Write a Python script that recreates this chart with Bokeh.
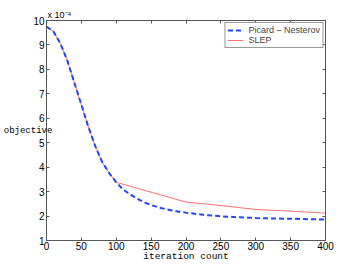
from bokeh.plotting import figure
from bokeh.models import Range1d, LinearAxis, Legend, LegendItem, Title, FixedTicker
from bokeh.embed import file_html
from bokeh.resources import INLINE

# iteration counts and objective values (x 1e-4)
pn_iter = [0, 10, 20, 30, 40, 50, 60, 70, 80, 90, 100, 110, 120, 130, 140, 150,
           160, 170, 180, 190, 200, 225, 250, 275, 300, 325, 350, 375, 400]
pn_obj = [9.75, 9.55, 9.05, 8.35, 7.45, 6.55, 5.65, 4.85, 4.2, 3.75, 3.38, 3.08,
          2.89, 2.71, 2.56, 2.45, 2.36, 2.29, 2.23, 2.18, 2.14, 2.05, 1.99, 1.95,
          1.92, 1.9, 1.89, 1.87, 1.86]

slep_iter = [0, 10, 20, 30, 40, 50, 60, 70, 80, 90, 100, 200, 250, 300, 350, 400]
slep_obj = [9.75, 9.55, 9.05, 8.35, 7.45, 6.55, 5.65, 4.85, 4.2, 3.75, 3.38, 2.57,
            2.43, 2.27, 2.2, 2.12]

x_ticks = [0, 50, 100, 150, 200, 250, 300, 350, 400]
y_ticks = [1, 2, 3, 4, 5, 6, 7, 8, 9, 10]

AX = "#555555"
SANS = "Liberation Sans"
MONO = "Liberation Mono"

p = figure(frame_width=279, frame_height=220, output_backend="svg", toolbar_location=None,
           x_range=Range1d(0, 400), y_range=Range1d(1, 10),
           min_border_left=46, min_border_right=35, min_border_top=20, min_border_bottom=30)
p.xgrid.visible = False
p.ygrid.visible = False
p.outline_line_color = AX
p.background_fill_color = "white"
p.border_fill_color = "white"

def style(ax, ticks, show_labels):
    ax.ticker = FixedTicker(ticks=ticks)
    ax.major_tick_in = 3
    ax.major_tick_out = 0
    ax.minor_tick_line_color = None
    ax.axis_line_color = AX
    ax.major_tick_line_color = AX
    ax.major_label_text_font = SANS
    if show_labels:
        ax.major_label_text_color = "black"
        ax.major_label_text_font_size = "10px"
        ax.major_label_standoff = 2
    else:
        ax.major_label_text_color = None
        ax.major_label_text_font_size = "0px"
        ax.major_label_standoff = 0

style(p.xaxis[0], x_ticks, True)
style(p.yaxis[0], y_ticks, True)
p.xaxis[0].major_label_standoff = 1

xa = p.xaxis[0]
xa.axis_label = "iteration count"
xa.axis_label_text_font = MONO
xa.axis_label_text_font_size = "9.5px"
xa.axis_label_text_font_style = "normal"
xa.axis_label_text_color = "black"
xa.axis_label_standoff = -2

ya = p.yaxis[0]
ya.axis_label = "objective"
ya.axis_label_orientation = "horizontal"
ya.axis_label_text_font = MONO
ya.axis_label_text_font_size = "9px"
ya.axis_label_text_font_style = "normal"
ya.axis_label_text_color = "black"
ya.axis_label_standoff = -22

top = LinearAxis()
right = LinearAxis()
style(top, x_ticks, False)
style(right, y_ticks, False)
p.add_layout(top, "above")
p.add_layout(right, "right")

p.add_layout(Title(text="x 10\u207b\u2074", align="left", text_font=SANS,
                   text_font_size="9px", text_font_style="normal", text_color="black",
                   standoff=1, offset=1), "above")

r_slep = p.line(slep_iter, slep_obj, line_color="#ff7070", line_width=1)
r_pn = p.line(pn_iter, pn_obj, line_color="#2244ff", line_width=2, line_dash="5 3")

legend = Legend(items=[LegendItem(label="Picard – Nesterov", renderers=[r_pn]),
                       LegendItem(label="SLEP", renderers=[r_slep])],
                location="top_right")
legend.label_text_font = SANS
legend.label_text_font_size = "9px"
legend.label_height = 10
legend.glyph_height = 10
legend.glyph_width = 16
legend.label_standoff = 5
legend.spacing = 0
legend.padding = 2
legend.margin = 2
legend.border_line_color = "#333333"
legend.border_line_width = 1
legend.background_fill_alpha = 1
p.add_layout(legend)

open("out.html", "w").write(file_html(p, INLINE))
